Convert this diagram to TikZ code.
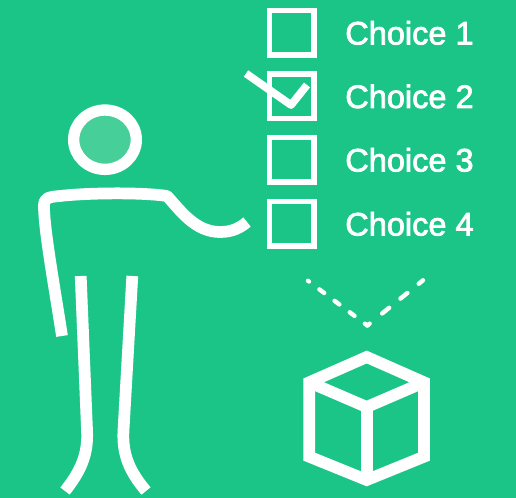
\documentclass[tikz,border=0pt]{standalone}
\usetikzlibrary{shapes.geometric}
\usepackage{fontspec}
\setmainfont{Liberation Sans}
\newcommand{\heavytext}[1]{\special{pdf:code q 2 Tr 0.55 w 1 1 1 RG}#1\special{pdf:code Q}}
\definecolor{bg}{HTML}{1BC587}
\definecolor{headfill}{HTML}{47CF99}
\tikzset{
  thick line/.style={draw=white,line width=8.8pt},
  box/.style={draw=white,line width=4.2pt,minimum size=33.4pt,inner sep=0pt},
  label/.style={text=white,font=\fontsize{24.4}{24.4}\selectfont,anchor=base west,inner sep=0pt},
  dashline/.style={draw=white,line width=3.3pt,line cap=round}
}
\begin{document}
\begin{tikzpicture}[x=0.75pt,y=-0.75pt]
\useasboundingbox (0,0) rectangle (516,498);
\fill[bg] (0,0) rectangle (516,498);
% person
\node[ellipse,draw=white,fill=headfill,line width=8.5pt,minimum width=47pt,minimum height=44.5pt,inner sep=0pt] (head) at (105,139.7) {};
\draw[thick line,line join=round] (62,336) .. controls (55,290) and (44,230) .. (44,206)
  .. controls (44,198) and (48,197) .. (60,196)
  .. controls (85,193) and (140,192) .. (167,196)
  .. controls (180,210) and (195,232) .. (220,232)
  .. controls (232,232) and (240,228) .. (247,222);
\draw[thick line] (80.7,276) -- (87,430) .. controls (88.5,455) and (80,472) .. (65,491);
\draw[thick line] (132.3,276) -- (123.5,430) .. controls (122,455) and (130,472) .. (146,491);
% choices
\node[box] (b1) at (291.7,32.7) {};
\node[box] (b2) at (291.7,96.2) {};
\node[box] (b3) at (291.7,159.8) {};
\node[box] (b4) at (291.7,223.6) {};
\node[label] (t1) at (345,44.5) {\heavytext{Choice 1}};
\node[label] (t2) at (345,108) {\heavytext{Choice 2}};
\node[label] (t3) at (345,171.5) {\heavytext{Choice 3}};
\node[label] (t4) at (345,235.5) {\heavytext{Choice 4}};
\draw[draw=white,line width=5.8pt,line join=round] (246,73.5) -- (291,105) -- (307,85);
% dashed V
\coordinate (apex) at (367.3,325.5);
\coordinate (vl) at (308,280.8);
\coordinate (vr) at (423,280.3);
\draw[dashline,dash pattern=on 2.25pt off 9.75pt on 4.5pt off 9.75pt on 4.5pt off 9.75pt on 4.5pt off 9.75pt on 4.5pt off 9.75pt] (apex) -- (vl);
\draw[dashline,dash pattern=on 2.25pt off 12.1pt on 6.75pt off 10.9pt on 6.75pt off 10.9pt on 6.75pt off 10.9pt] (apex) -- (vr);
% cube
\draw[thick line,line join=miter] (366.7,357) -- (424,382.3) -- (424,456.7) -- (366.7,480) -- (309.3,456.7) -- (309.3,382.3) -- cycle;
\draw[thick line,line join=round] (309.3,382.3) -- (366.7,407) -- (424,382.3);
\draw[thick line] (366.7,407) -- (366.7,480);
\end{tikzpicture}
\end{document}
